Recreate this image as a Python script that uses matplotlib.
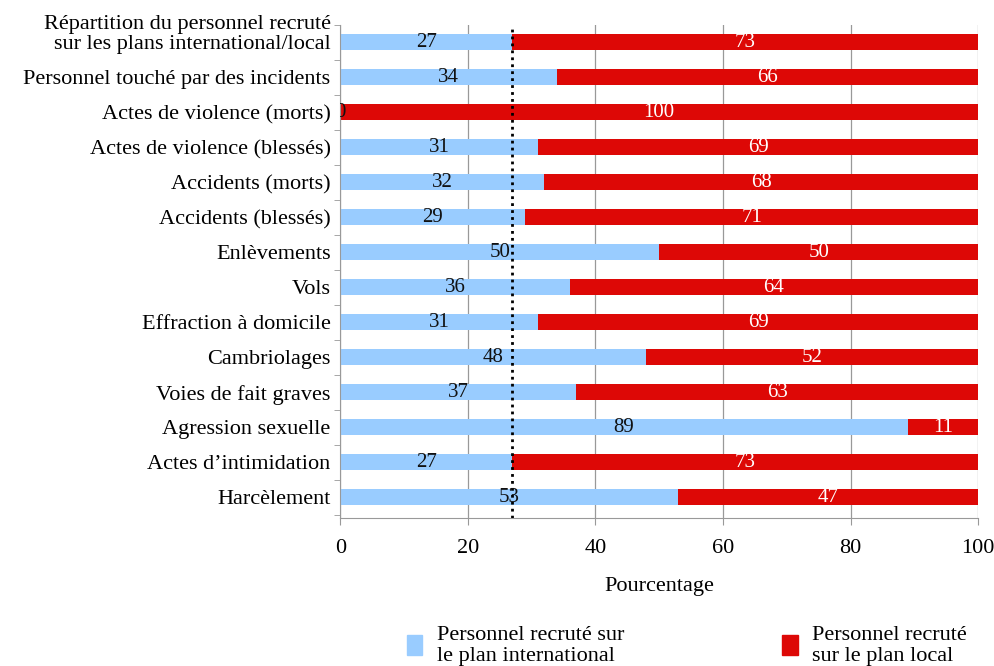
import numpy as np
import matplotlib.pyplot as plt
from matplotlib.patches import Patch
from matplotlib.transforms import ScaledTranslation

plt.rcParams['font.family'] = ['Liberation Serif', 'DejaVu Serif']

categories = [
    "Répartition du personnel recruté\nsur les plans international/local",
    "Personnel touché par des incidents",
    "Actes de violence (morts)",
    "Actes de violence (blessés)",
    "Accidents (morts)",
    "Accidents (blessés)",
    "Enlèvements",
    "Vols",
    "Effraction à domicile",
    "Cambriolages",
    "Voies de fait graves",
    "Agression sexuelle",
    "Actes d\u2019intimidation",
    "Harcèlement",
]
international = [27, 34, 0, 31, 32, 29, 50, 36, 31, 48, 37, 89, 27, 53]
local = [73, 66, 100, 69, 68, 71, 50, 64, 69, 52, 63, 11, 73, 47]
reference_line = 27

blue = '#99CCFF'
red = '#DD0806'
fs = 16

fig = plt.figure(figsize=(9.95, 6.66), dpi=100)
ax = fig.add_axes([0.342, 0.222, 0.641, 0.741])

y = np.arange(len(categories))
h = 0.44
ax.barh(y, international, height=h, color=blue, zorder=2)
ax.barh(y, local, left=international, height=h, color=red, zorder=2)

for i in range(len(categories)):
    a, b = international[i], local[i]
    ax.text(a / 2, y[i], str(a), ha='center', va='center', fontsize=15,
            color='#111111', zorder=4, clip_on=True)
    ax.text(a + b / 2, y[i], str(b), ha='center', va='center', fontsize=15,
            color='white', zorder=4)

ax.axvline(reference_line, color='black', linestyle=(0, (1, 1.5)), lw=2, zorder=3)

ax.set_xlim(0, 100)
ax.set_ylim(len(categories) - 0.4, -0.5)
ax.set_xticks([0, 20, 40, 60, 80, 100])
ax.xaxis.grid(True, color='#999999', lw=0.9, zorder=0)
ax.set_axisbelow(True)
ax.set_yticks(y)
ax.set_yticklabels(categories, fontsize=fs, linespacing=1.1)
ax.set_yticks(np.arange(-0.5, len(categories), 1), minor=True)
ax.tick_params(axis='y', which='major', length=0, pad=7)
ax.tick_params(axis='y', which='minor', length=4, color='#999999')
ax.tick_params(axis='x', length=5, color='#999999', labelsize=fs, pad=10)
ax.set_xlabel('Pourcentage', fontsize=fs, labelpad=14)

# the two-line label sits with its second line level with the bar
first = ax.get_yticklabels()[0]
first.set_transform(first.get_transform() + ScaledTranslation(0, 11 / 100, fig.dpi_scale_trans))

for s in ['top', 'right']:
    ax.spines[s].set_visible(False)
for s in ['left', 'bottom']:
    ax.spines[s].set_color('#999999')

handles = [Patch(color=blue), Patch(color=red)]
labels = ['Personnel recruté sur\nle plan international',
          'Personnel recruté\nsur le plan local']
fig.legend(handles, labels, loc='lower left', bbox_to_anchor=(0.400, -0.014),
           ncol=2, frameon=False, fontsize=fs, handlelength=0.7,
           handleheight=1.0, handletextpad=0.65, columnspacing=7.1,
           borderaxespad=0, labelspacing=0.2)

fig.savefig('out.png', dpi=100)
